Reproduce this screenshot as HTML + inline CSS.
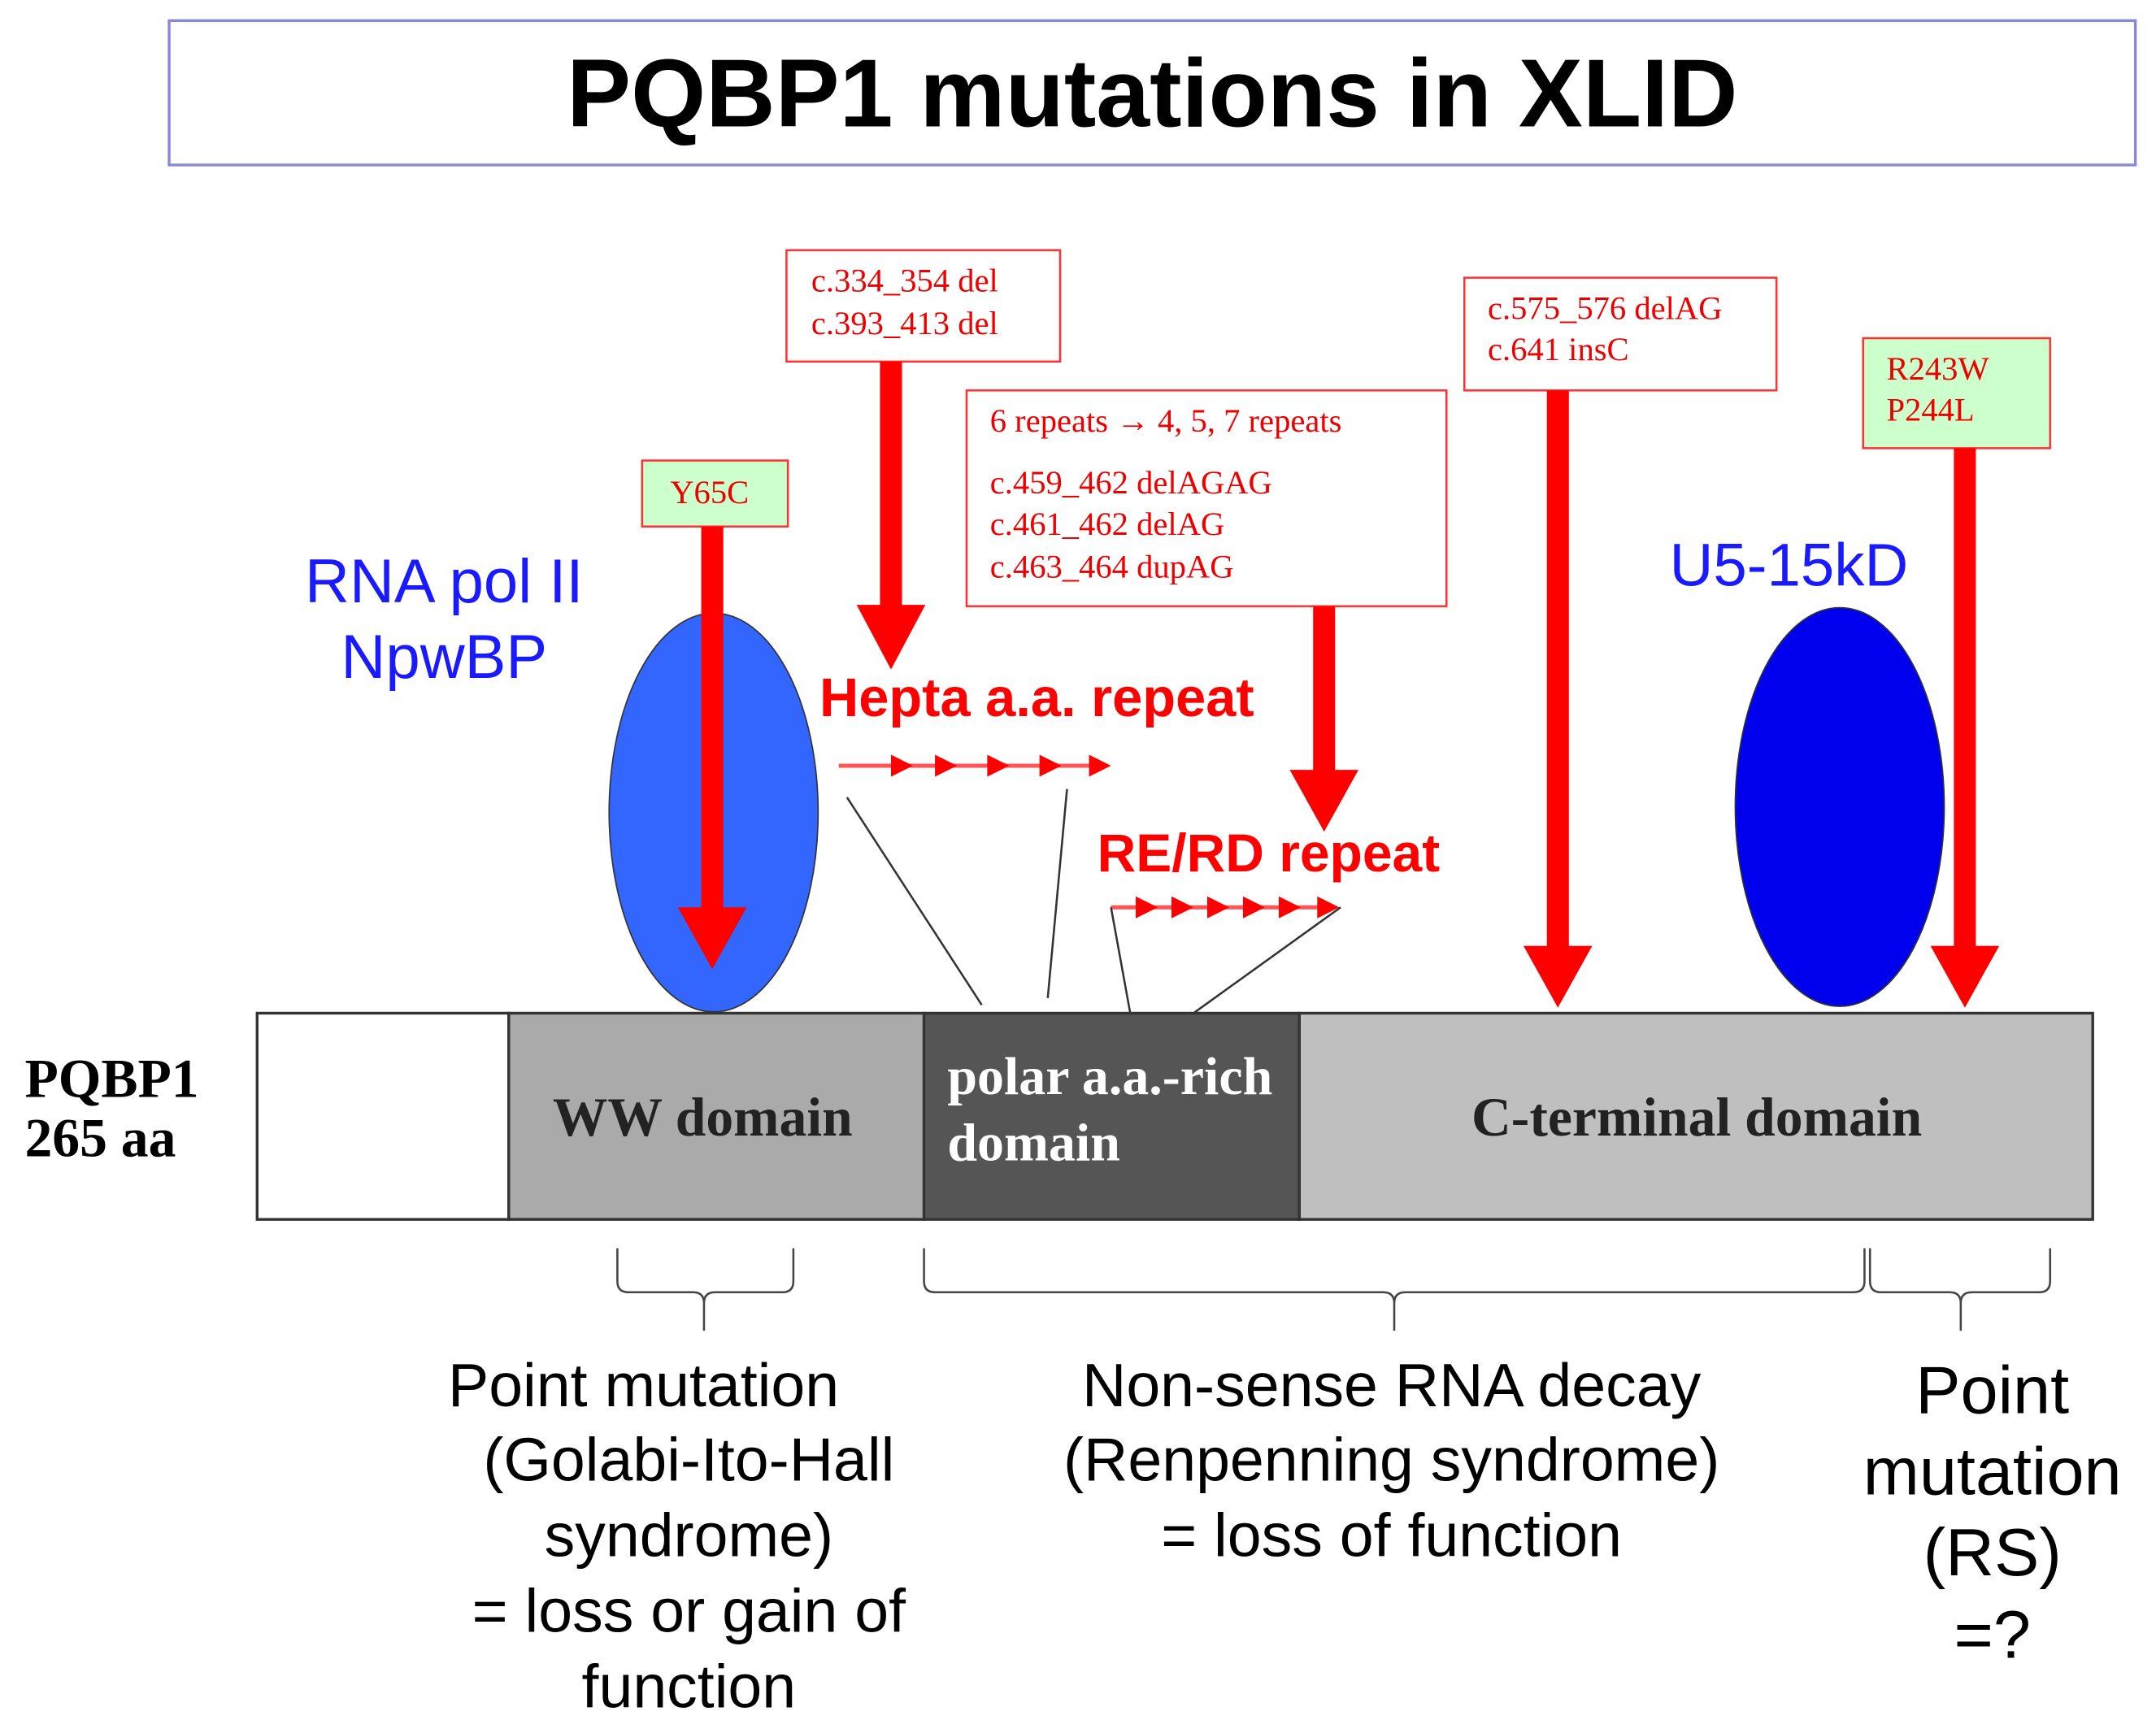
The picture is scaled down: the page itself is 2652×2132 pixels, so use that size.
<!DOCTYPE html>
<html><head><meta charset="utf-8"><style>
html,body{margin:0;padding:0;background:#fff;}
svg{display:block;}
.ser{font-family:"Liberation Serif",serif;}
.san{font-family:"Liberation Sans",sans-serif;}
</style></head><body>
<svg width="2652" height="2132" viewBox="0 0 1568 1260.6" preserveAspectRatio="none" xmlns="http://www.w3.org/2000/svg">
<rect x="123" y="15" width="1430" height="105" fill="#fff" stroke="#8888d8" stroke-width="2"/>
<text x="838" y="92" text-anchor="middle" class="san" font-weight="bold" font-size="70" fill="#000">PQBP1 mutations in XLID</text>

<!-- bar -->
<rect x="187" y="737" width="183" height="150" fill="#fff" stroke="#333" stroke-width="2"/>
<rect x="370" y="737" width="302" height="150" fill="#aaaaaa" stroke="#333" stroke-width="2"/>
<rect x="672" y="737" width="273" height="150" fill="#555555" stroke="#333" stroke-width="2"/>
<rect x="945" y="737" width="577" height="150" fill="#bfbfbf" stroke="#333" stroke-width="2"/>
<text x="511" y="826" text-anchor="middle" class="ser" font-weight="bold" font-size="40" fill="#222">WW domain</text>
<text x="689" y="796" class="ser" font-weight="bold" font-size="39" fill="#fff">polar a.a.-rich</text>
<text x="689" y="844" class="ser" font-weight="bold" font-size="39" fill="#fff">domain</text>
<text x="1234" y="826" text-anchor="middle" class="ser" font-weight="bold" font-size="40" fill="#222">C-terminal domain</text>
<text x="18" y="798" class="ser" font-weight="bold" font-size="40" fill="#000">PQBP1</text>
<text x="18" y="841" class="ser" font-weight="bold" font-size="40" fill="#000">265 aa</text>

<!-- ellipses -->
<ellipse cx="519" cy="591" rx="76" ry="145" fill="#3366ff" stroke="#333" stroke-width="1"/>
<ellipse cx="1338" cy="587" rx="76" ry="145" fill="#0000ee" stroke="#333" stroke-width="1"/>
<text x="323" y="438" text-anchor="middle" class="san" font-size="45" fill="#1a1aff">RNA pol II</text>
<text x="323" y="493" text-anchor="middle" class="san" font-size="45" fill="#1a1aff">NpwBP</text>
<text x="1301" y="426" text-anchor="middle" class="san" font-size="44" fill="#1a1aff">U5-15kD</text>

<!-- boxes -->
<rect x="467" y="335" width="106" height="48" fill="#ccffcc" stroke="#ff3333" stroke-width="1.5"/>
<text x="516" y="366" text-anchor="middle" class="ser" font-size="24" fill="#ee0000">Y65C</text>
<rect x="572" y="182" width="199" height="81" fill="#fff" stroke="#ff3333" stroke-width="1.5"/>
<text x="590" y="212" class="ser" font-size="24" fill="#ee0000">c.334_354 del</text>
<text x="590" y="243" class="ser" font-size="24" fill="#ee0000">c.393_413 del</text>
<rect x="703" y="284" width="349" height="157" fill="#fff" stroke="#ff3333" stroke-width="1.5"/>
<text x="720" y="314" class="ser" font-size="24" fill="#ee0000">6 repeats → 4, 5, 7 repeats</text>
<text x="720" y="359" class="ser" font-size="24" fill="#ee0000">c.459_462 delAGAG</text>
<text x="720" y="389" class="ser" font-size="24" fill="#ee0000">c.461_462 delAG</text>
<text x="720" y="420" class="ser" font-size="24" fill="#ee0000">c.463_464 dupAG</text>
<rect x="1065" y="202" width="227" height="82" fill="#fff" stroke="#ff3333" stroke-width="1.5"/>
<text x="1082" y="232" class="ser" font-size="24" fill="#ee0000">c.575_576 delAG</text>
<text x="1082" y="262" class="ser" font-size="24" fill="#ee0000">c.641 insC</text>
<rect x="1355" y="246" width="136" height="80" fill="#ccffcc" stroke="#ff3333" stroke-width="1.5"/>
<text x="1372" y="276" class="ser" font-size="24" fill="#ee0000">R243W</text>
<text x="1372" y="306" class="ser" font-size="24" fill="#ee0000">P244L</text>

<!-- big arrows -->
<g fill="#ff0000">
<rect x="510" y="383" width="16" height="280"/><polygon points="493,660 543,660 518,705"/>
<rect x="640" y="263" width="16" height="180"/><polygon points="623,440 673,440 648,487"/>
<rect x="955" y="441" width="16" height="122"/><polygon points="938,560 988,560 963,605"/>
<rect x="1125" y="284" width="16" height="407"/><polygon points="1108,688 1158,688 1133,733"/>
<rect x="1421" y="326" width="16" height="365"/><polygon points="1404,688 1454,688 1429,733"/>
</g>

<text x="596" y="521" class="san" font-weight="bold" font-size="39.5" fill="#ff0000">Hepta a.a. repeat</text>
<text x="798" y="634" class="san" font-weight="bold" font-size="39" fill="#ff0000">RE/RD repeat</text>

<!-- small arrow chains -->
<g fill="#ff0000" stroke="none">
<rect x="610" y="555.5" width="190" height="3" fill="#ff5555"/>
<polygon points="648,549 648,565 664,557"/>
<polygon points="680,549 680,565 696,557"/>
<polygon points="718,549 718,565 734,557"/>
<polygon points="756,549 756,565 772,557"/>
<polygon points="792,549 792,565 808,557"/>
<rect x="808" y="658.5" width="160" height="3" fill="#ff5555"/>
<polygon points="826,652 826,668 842,660"/>
<polygon points="852,652 852,668 868,660"/>
<polygon points="878,652 878,668 894,660"/>
<polygon points="904,652 904,668 920,660"/>
<polygon points="930,652 930,668 946,660"/>
<polygon points="958,652 958,668 974,660"/>
</g>
<g stroke="#333" stroke-width="1.5" fill="none">
<line x1="616" y1="580" x2="714" y2="731"/>
<line x1="776" y1="574" x2="762" y2="726"/>
<polyline points="808,660 822,737"/>
<line x1="975" y1="660" x2="868" y2="737"/>
</g>

<!-- braces -->
<g stroke="#444" stroke-width="1.5" fill="none">
<path d="M449,908 L449,932 Q449,940 457,940 L504,940 Q512,940 512,948 L512,968 M512,948 Q512,940 520,940 L569,940 Q577,940 577,932 L577,908"/>
<path d="M672,908 L672,932 Q672,940 680,940 L1006,940 Q1014,940 1014,948 L1014,968 M1014,948 Q1014,940 1022,940 L1348,940 Q1356,940 1356,932 L1356,908"/>
<path d="M1360,908 L1360,932 Q1360,940 1368,940 L1418,940 Q1426,940 1426,948 L1426,968 M1426,948 Q1426,940 1434,940 L1483,940 Q1491,940 1491,932 L1491,908"/>
</g>

<!-- bottom text -->
<g class="san" font-size="44.5" fill="#000" text-anchor="middle">
<text x="468" y="1023">Point mutation</text>
<text x="501" y="1077">(Golabi-Ito-Hall</text>
<text x="501" y="1132">syndrome)</text>
<text x="501" y="1187">= loss or gain of</text>
<text x="501" y="1242">function</text>
<text x="1012" y="1023">Non-sense RNA decay</text>
<text x="1012" y="1077">(Renpenning syndrome)</text>
<text x="1012" y="1132">=  loss of function</text>
</g>
<g class="san" font-size="49" fill="#000" text-anchor="middle">
<text x="1449" y="1028">Point</text>
<text x="1449" y="1087">mutation</text>
<text x="1449" y="1146">(RS)</text>
<text x="1449" y="1206">=?</text>
</g>
</svg>
</body></html>
